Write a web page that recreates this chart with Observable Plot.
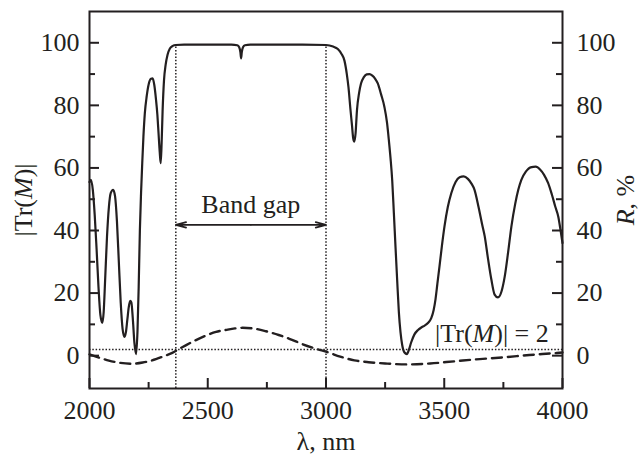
<!DOCTYPE html>
<html><head><meta charset="utf-8">
<script src="https://cdn.jsdelivr.net/npm/d3@7"></script>
<script src="https://cdn.jsdelivr.net/npm/@observablehq/plot@0.6"></script>
<style>html,body{margin:0;padding:0;background:#fff}#chart svg{display:block}</style>
</head><body><div id="chart"></div>
<script>
// Reflectance R (%) vs wavelength (nm), solid curve
const wavelength = [2000,2006,2014,2022,2030,2038,2046,2054,2060,2066,2074,2082,2090,2100,2108,2116,2124,2132,2140,2148,2154,2160,2166,2172,2177,2183,2190,2197,2203,2208,2213,2218,2223,2228,2234,2242,2251,2260,2267,2274,2281,2287,2292,2297,2301,2305,2309,2315,2322,2330,2340,2352,2365,2400,2500,2600,2625,2633,2638,2641,2644,2649,2657,2680,2800,2900,3000,3030,3050,3065,3078,3088,3095,3103,3110,3115,3120,3125,3131,3140,3148,3160,3172,3184,3196,3208,3219,3233,3247,3258,3266,3273,3280,3287,3294,3301,3308,3315,3322,3332,3342,3351,3360,3374,3389,3403,3417,3432,3445,3455,3463,3471,3480,3490,3501,3515,3530,3548,3565,3582,3600,3615,3628,3645,3660,3671,3685,3699,3713,3727,3742,3756,3770,3784,3800,3813,3826,3845,3865,3887,3905,3922,3939,3955,3970,3982,3992,4000];
const reflectance = [55.5,56.2,53,45,34,22,13,10.5,14,24,38,47.5,52,53,51,43,30,17,8.5,6,7.5,11.5,15.5,17.5,17,12,4,0.5,8,22,40,52,61.5,70,77.5,83,87,88.5,88.6,86.5,82,77,71,65,61.5,68,78,88,93,96.2,98.2,99,99.3,99.4,99.4,99.4,99.2,98.6,97,95,97,98.6,99.2,99.4,99.4,99.4,99.3,98.8,98,96.5,94.3,90,85.8,79,73.5,69.5,68.4,71,78.5,84,87,89,89.9,90,89.5,88.5,87,83.5,79.5,74.5,68.7,63,56,45.5,34.6,24,14,7.5,3.5,1,0.5,2,4.2,6.8,8.2,9,9.6,10.5,12,14.5,18,23,28.6,35,41.3,47.5,52,55.5,57,57.3,56.5,55,53,47.5,42,38.2,31,24.4,19.5,18.6,20.5,25.4,33,41.3,48.5,53,56.2,58.8,60.2,60.4,59.5,57.8,55.2,51.5,47.5,44.5,40,36];
// |Tr(M)| vs wavelength, dashed curve
const trWavelength = [2000,2040,2082,2130,2180,2225,2265,2310,2350,2380,2407,2440,2492,2535,2576,2615,2647,2690,2746,2800,2845,2900,2958,3007,3060,3120,3180,3250,3340,3440,3544,3650,3756,3860,3968,4000];
const trValue = [0.4,-0.6,-1.6,-2.3,-2.6,-2.2,-1.5,-0.3,0.9,2.2,3.3,4.6,6.4,7.6,8.2,8.7,8.9,8.7,7.8,6.6,5.4,3.7,2.2,1.1,-0.3,-1.5,-2.1,-2.5,-2.8,-2.5,-1.8,-1.1,-0.5,0.2,0.8,1];
const xTicks = [2000,2500,3000,3500,4000];
const xMinor = [2250,2750,3250,3750];
const yTicks = [0,20,40,60,80,100];
const yMinor = [10,30,50,70,90];
const bandEdges = [2365,3000];
const trLevel = 2;

const solid = wavelength.map((w,i)=>({x:w,y:reflectance[i]}));
const dashed = trWavelength.map((w,i)=>({x:w,y:trValue[i]}));
const mid = (bandEdges[0]+bandEdges[1])/2;
const ink = "#231f20";
const font = "'Liberation Serif','Times New Roman',serif";
const xMin = 2000, xMax = 4000, yMin = -10.5, yMax = 110;
const fmt = d => String(d);

const W = 644, H = 456, mL = 89, mR = 82, mT = 11, mB = 68;
const fw = W - mL - mR, fh = H - mT - mB;
// tick lengths in pixels, converted to data units of each scale
const kx = (xMax - xMin) / fw, ky = (yMax - yMin) / fh;
const major = 10, minor = 6;
const tickStyle = {stroke: ink, strokeWidth: 2};

const plot = Plot.plot({
  width: W, height: H,
  marginLeft: mL, marginRight: mR, marginTop: mT, marginBottom: mB,
  style: {fontFamily: font, fontSize: "26px", color: ink, background: "#fff", overflow: "visible"},
  x: {domain: [xMin, xMax]},
  y: {domain: [yMin, yMax]},
  marks: [
    Plot.ruleX(bandEdges, {x: d=>d, y1: yMin, y2: 98.8, stroke: ink, strokeWidth: 1.5, strokeDasharray: "1.5,1.8"}),
    Plot.ruleY([trLevel], {y: d=>d, stroke: ink, strokeWidth: 1.5, strokeDasharray: "1.5,1.8"}),
    Plot.line(dashed, {x:"x", y:"y", stroke: ink, strokeWidth: 2.4, strokeDasharray: "10,6", curve: "monotone-x"}),
    Plot.line(solid, {x:"x", y:"y", stroke: ink, strokeWidth: 2.2, curve: "monotone-x"}),
    Plot.arrow(bandEdges, {x1: ()=>mid, x2: d=>d, y1: 41.8, y2: 41.8, stroke: ink, strokeWidth: 1.6, headLength: 10, headAngle: 30}),
    Plot.text(["Band gap"], {x: 2682, y: 45.6, text: d=>d, lineAnchor: "bottom", fill: ink, fontSize: 26}),
    Plot.text(["|Tr(M)| = 2"], {x: 3942, y: 4.3, text: d=>d, textAnchor: "end", lineAnchor: "bottom", fill: ink, fontSize: 26}),
    Plot.text(["|Tr(M)|"], {frameAnchor: "left", dx: -66, rotate: -90, text: d=>d, textAnchor: "middle", lineAnchor: "middle", fill: ink, fontSize: 26}),
    Plot.text(["R, %"], {frameAnchor: "right", dx: 63, rotate: -90, text: d=>d, textAnchor: "middle", lineAnchor: "middle", fill: ink, fontSize: 26}),
    Plot.text(["λ, nm"], {frameAnchor: "bottom", dy: 53, text: d=>d, textAnchor: "middle", lineAnchor: "middle", fill: ink, fontSize: 26}),
    // tick labels
    Plot.axisX({ticks: xTicks, anchor: "bottom", tickSize: 0, tickPadding: 12, tickFormat: fmt, label: null, fontSize: 26}),
    Plot.axisY({ticks: yTicks, anchor: "left", tickSize: 0, tickPadding: 10, tickFormat: fmt, label: null, fontSize: 26}),
    Plot.axisY({ticks: yTicks, anchor: "right", tickSize: 0, tickPadding: 14, tickFormat: fmt, label: null, fontSize: 26}),
    // inward ticks
    Plot.ruleX(xTicks, {x: d=>d, y1: yMin, y2: yMin + major*ky, ...tickStyle}),
    Plot.ruleX(xMinor, {x: d=>d, y1: yMin, y2: yMin + minor*ky, ...tickStyle}),
    Plot.ruleY(yTicks, {y: d=>d, x1: xMin, x2: xMin + major*kx, ...tickStyle}),
    Plot.ruleY(yMinor, {y: d=>d, x1: xMin, x2: xMin + minor*kx, ...tickStyle}),
    Plot.ruleY(yTicks, {y: d=>d, x1: xMax - major*kx, x2: xMax, ...tickStyle}),
    Plot.ruleY(yMinor, {y: d=>d, x1: xMax - minor*kx, x2: xMax, ...tickStyle}),
    Plot.frame({stroke: ink, strokeWidth: 2})
  ]
});
document.getElementById("chart").appendChild(plot);

// italic parts of labels
const rich = {
  "|Tr(M)|": '|Tr(<tspan font-style="italic">M</tspan>)|',
  "R, %": '<tspan font-style="italic">R</tspan>, %',
  "|Tr(M)| = 2": '|Tr(<tspan font-style="italic">M</tspan>)| = 2'
};
plot.querySelectorAll("text").forEach(t => {
  const s = t.textContent;
  if (rich[s] !== undefined) {
    const target = t.querySelector("tspan") || t;
    target.innerHTML = rich[s];
  }
});
</script>
</body></html>
